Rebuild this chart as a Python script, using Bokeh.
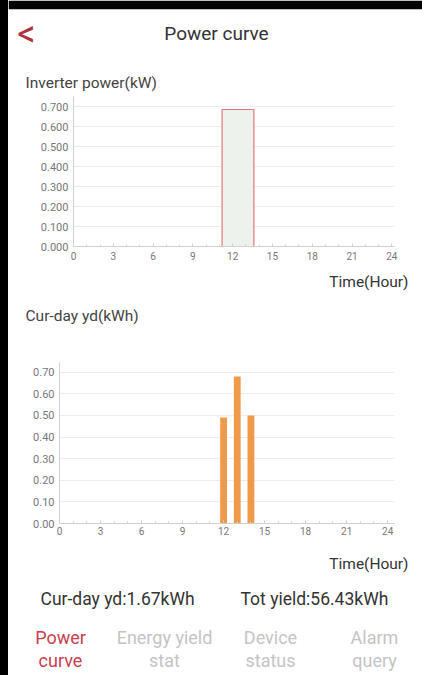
from bokeh.plotting import figure
from bokeh.layouts import row
from bokeh.models import Range1d, FixedTicker, NumeralTickFormatter, Spacer
from bokeh.core.properties import value
from bokeh.embed import file_html
from bokeh.resources import INLINE

# ---- data ----
power_time = [0.0, 11.2, 11.2, 13.6, 13.6, 24.0]
power_kw = [0.0, 0.0, 0.685, 0.685, 0.0, 0.0]
power_yticks = [0.0, 0.1, 0.2, 0.3, 0.4, 0.5, 0.6, 0.7]
hour_ticks = [0, 3, 6, 9, 12, 15, 18, 21, 24]
yield_hours = [12, 13, 14]
yield_kwh = [0.49, 0.68, 0.50]
yield_yticks = [0.0, 0.1, 0.2, 0.3, 0.4, 0.5, 0.6, 0.7]
title_text = "Power curve"
chart1_title = "Inverter power(kW)"
chart2_title = "Cur-day yd(kWh)"
xaxis_title = "Time(Hour)"
summary_left = "Cur-day yd:1.67kWh"
summary_right = "Tot yield:56.43kWh"
tabs_line1 = ["Power", "Energy yield", "Device", "Alarm"]
tabs_line2 = ["curve", "stat", "status", "query"]

PAGE_W = 422
EDGE = 8
W = PAGE_W - EDGE
FONT = value("Roboto")
RED = "#C8404E"


def text_fig(y0, y1, top_border=0):
    h = y1 - y0
    f = figure(width=W, height=h, x_range=Range1d(EDGE, PAGE_W),
               y_range=Range1d(y1, y0 + top_border),
               x_axis_type=None, y_axis_type=None, output_backend="svg",
               toolbar_location=None, min_border=0, min_border_top=top_border,
               border_fill_color="black", background_fill_color="white")
    f.grid.visible = False
    f.outline_line_color = None
    return f


def wrap(fig):
    sp = Spacer(width=EDGE, height=fig.height, styles={"background-color": "black"})
    return row(sp, fig, spacing=0)


def style_axes(p, fmt, yticks):
    for ax in (p.xaxis, p.yaxis):
        ax.axis_line_color = "#D0D0D0"
        ax.major_tick_line_color = "#D0D0D0"
        ax.minor_tick_line_color = "#D0D0D0"
        ax.major_tick_in = 3
        ax.major_tick_out = 0
        ax.minor_tick_in = 2
        ax.minor_tick_out = 0
        ax.major_label_text_font = "Roboto"
        ax.major_label_text_color = "#777777"
    p.xaxis.major_label_text_font_size = "10px"
    p.yaxis.major_label_text_font_size = "11px"
    p.yaxis.major_label_standoff = 5
    p.yaxis.major_tick_line_color = None
    p.yaxis.minor_tick_line_color = None
    p.xaxis.ticker = FixedTicker(ticks=hour_ticks,
                                 minor_ticks=list(range(0, 25)))
    p.yaxis.ticker = FixedTicker(ticks=yticks)
    p.yaxis.formatter = NumeralTickFormatter(format=fmt)
    p.xgrid.visible = False
    p.ygrid.grid_line_color = "#EDEDED"
    p.outline_line_color = None
    p.border_fill_color = "white"


# ---- header (page y 0..92) ----
hdr = text_fig(0, 92, top_border=9)
hdr.text(x=[26], y=[33], text=["<"], text_font=FONT, text_font_size="36px",
         text_color="#B03040", text_align="center", text_baseline="middle")
hdr.text(x=[216], y=[33], text=[title_text], text_font=FONT,
         text_font_size="19px", text_color="#333333", text_align="center",
         text_baseline="middle")
hdr.text(x=[25], y=[82], text=[chart1_title], text_font=FONT,
         text_font_size="15.5px", text_color="#444444", text_align="left",
         text_baseline="middle")

# ---- chart 1 (page y 92..272) ----
c1 = figure(width=W, height=180, x_range=Range1d(0, 24.2), y_range=Range1d(0, 0.75),
            output_backend="svg", toolbar_location=None,
            min_border_left=65, min_border_right=28, min_border_top=4,
            min_border_bottom=26)
style_axes(c1, "0.000", power_yticks)
c1.xaxis.major_label_standoff = 5
c1.varea(x=power_time, y1=0, y2=power_kw, fill_color="#EDF2ED", fill_alpha=1)
c1.line(x=power_time, y=power_kw, line_color="#E07878", line_width=1.2)

# ---- middle texts (page y 272..350) ----
mid = text_fig(272, 350)
mid.text(x=[408], y=[281], text=[xaxis_title], text_font=FONT, text_font_size="15.5px",
         text_color="#333333", text_align="right", text_baseline="middle")
mid.text(x=[25], y=[315], text=[chart2_title], text_font=FONT, text_font_size="15.5px",
         text_color="#444444", text_align="left", text_baseline="middle")

# ---- chart 2 (page y 350..541) ----
c2 = figure(width=W, height=191, x_range=Range1d(0, 24.5), y_range=Range1d(0, 0.745),
            output_backend="svg", toolbar_location=None,
            min_border_left=51, min_border_right=28, min_border_top=12,
            min_border_bottom=18)
style_axes(c2, "0.00", yield_yticks)
c2.xaxis.major_label_standoff = 3
c2.vbar(x=yield_hours, top=yield_kwh, width=0.5, fill_color="#EE9A4A",
        line_color=None)

# ---- footer (page y 541..675) ----
ftr = text_fig(541, 675)
ftr.text(x=[408], y=[563], text=[xaxis_title], text_font=FONT, text_font_size="15.5px",
         text_color="#333333", text_align="right", text_baseline="middle")
ftr.text(x=[40], y=[598], text=[summary_left], text_font=FONT, text_font_size="17.5px",
         text_color="#333333", text_align="left", text_baseline="middle")
ftr.text(x=[240], y=[598], text=[summary_right], text_font=FONT, text_font_size="17.5px",
         text_color="#333333", text_align="left", text_baseline="middle")
tab_x = [60, 164, 270, 374]
tab_colors = [RED, "#C4C4C4", "#C4C4C4", "#C4C4C4"]
ftr.text(x=tab_x, y=[637] * 4, text=tabs_line1, text_font=FONT, text_font_size="18px",
         text_color=tab_colors, text_align="center", text_baseline="middle")
ftr.text(x=tab_x, y=[660] * 4, text=tabs_line2, text_font=FONT, text_font_size="18px",
         text_color=tab_colors, text_align="center", text_baseline="middle")

roots = [wrap(hdr), wrap(c1), wrap(mid), wrap(c2), wrap(ftr)]
open("out.html", "w").write(file_html(roots, INLINE))
